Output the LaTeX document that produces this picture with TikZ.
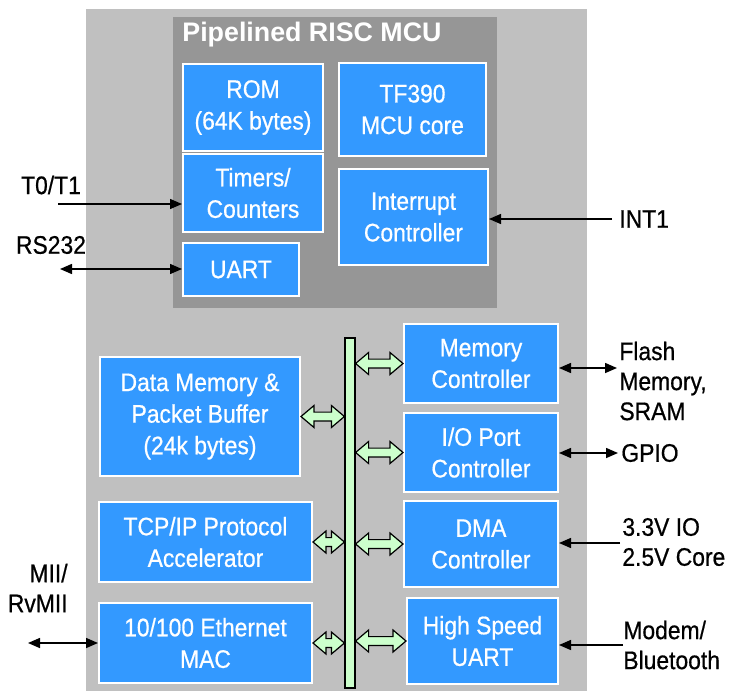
\documentclass[tikz,border=0pt]{standalone}
\usepackage{fontspec}
\setmainfont{Liberation Sans}
\newfontfamily\narrowfont{Liberation Sans}[FakeStretch=0.9, FakeBold=0.6]
\usepackage{tikz}
\usetikzlibrary{arrows.meta}
\usetikzlibrary{calc}
\definecolor{chipgray}{RGB}{192,192,192}
\definecolor{mcugray}{RGB}{150,150,150}
\definecolor{blkblue}{RGB}{51,153,255}
\definecolor{busgreen}{RGB}{204,255,204}
\tikzset{blk/.style={draw=white, line width=1pt, fill=blkblue, text=white, align=center,
  inner sep=0pt, font=\narrowfont\fontsize{12.7}{15.8}\selectfont}}
\tikzset{lbl/.style={inner sep=0pt, font=\narrowfont\fontsize{12.7}{15}\selectfont}}
\tikzset{sig/.style={line width=0.75pt}}
\tikzset{>={Triangle[length=6pt,width=5pt]}}
% fat two-headed arrow between bus and a block (same height)
\newcommand{\busarrow}[2]{%
  \filldraw[fill=busgreen, draw=black, line width=0.6pt]
    let \p1=(#1), \p2=(#2) in
    (\x1,\y1) -- ++(6.5pt,5.5pt) -- ++(0,-3.3pt) -- (\x2-6.5pt,\y1+2.2pt) -- ++(0,3.3pt)
    -- (\x2,\y1) -- ++(-6.5pt,-5.5pt) -- ++(0,3.3pt) -- (\x1+6.5pt,\y1-2.2pt) -- ++(0,-3.3pt) -- cycle;}

\begin{document}
\begin{tikzpicture}[x=0.5pt,y=-0.5pt]
    \useasboundingbox (0,0) rectangle (739,691);
    \fill[chipgray] (86,9) rectangle (587,691);
    \fill[mcugray] (173,17) rectangle (497,308);
    \node[anchor=west, text=white, inner sep=0pt, font=\bfseries\fontsize{13.4}{15}\selectfont]
      (title) at (182,35) {Pipelined RISC MCU};

    % MCU blocks
    \node[blk, minimum width=70pt, minimum height=43.5pt] (rom) at (253,107.5) {ROM\\(64K bytes)};
    \node[blk, minimum width=73.5pt, minimum height=46.5pt] (core) at (412.5,109.5) {TF390\\MCU core};
    \node[blk, minimum width=70pt, minimum height=39pt] (timers) at (253,193) {Timers/\\Counters};
    \node[blk, minimum width=74.5pt, minimum height=48pt] (intr) at (413.5,217) {Interrupt\\Controller};
    \node[blk, minimum width=58pt, minimum height=26.5pt] (uart) at (241,269.5) {UART};

    % bus and peripherals
    \node[draw=black, fill=busgreen, line width=0.6pt, inner sep=0pt,
      minimum width=5pt, minimum height=175pt] (bus) at (350,513) {};
    \node[blk, minimum width=77pt, minimum height=39.5pt] (mem) at (481,363.5) {Memory\\Controller};
    \node[blk, minimum width=77pt, minimum height=39.5pt] (io) at (481,452.5) {I/O Port\\Controller};
    \node[blk, minimum width=77pt, minimum height=43pt] (dma) at (481,544) {DMA\\Controller};
    \node[blk, minimum width=75.5pt, minimum height=43pt] (hsu) at (482.5,641) {High Speed\\UART};
    \node[blk, minimum width=100pt, minimum height=59.5pt] (dmem) at (200,416.5) {Data Memory \&\\Packet Buffer\\(24k bytes)};
    \node[blk, minimum width=106.5pt, minimum height=40pt] (tcp) at (205.5,542) {TCP/IP Protocol\\Accelerator};
    \node[blk, minimum width=106.5pt, minimum height=40pt] (eth) at (205.5,643) {10/100 Ethernet\\MAC};

    \busarrow{bus.east |- mem.west}{mem.west}
    \busarrow{bus.east |- io.west}{io.west}
    \busarrow{bus.east |- dma.west}{dma.west}
    \busarrow{bus.east |- hsu.west}{hsu.west}
    \busarrow{dmem.east}{bus.west |- dmem.east}
    \busarrow{tcp.east}{bus.west |- tcp.east}
    \busarrow{eth.east}{bus.west |- eth.east}

    % outside signals
    \node[lbl] (t01) at (51,185) {T0/T1};
    \node[lbl] (rs232) at (51,245) {RS232};
    \node[lbl, anchor=west] (int1) at (619,219) {INT1};
    \node[lbl, anchor=east, align=right] (mii) at (68,588) {MII/\\RvMII};
    \node[lbl, anchor=west, align=left] (flash) at (619,381) {Flash\\Memory,\\SRAM};
    \node[lbl, anchor=west] (gpio) at (621,453) {GPIO};
    \node[lbl, anchor=west, align=left] (volt) at (622,542) {3.3V IO\\2.5V Core};
    \node[lbl, anchor=west, align=left] (modem) at (623,645) {Modem/\\Bluetooth};

    \coordinate (pt0) at (58,204);
    \coordinate (prs) at (60,269);
    \coordinate (pint) at (612,219);
    \coordinate (pmii) at (28,643);
    \coordinate (pfl) at (617,368);
    \coordinate (pgp) at (618,453);
    \coordinate (pvo) at (620,543);
    \coordinate (pmo) at (623,645);

    \draw[sig, ->] (pt0) -- (timers.west |- pt0);
    \draw[sig, <->] (prs) -- (uart.west |- prs);
    \draw[sig, ->] (pint) -- (intr.east |- pint);
    \draw[sig, <->] (pmii) -- (eth.west |- pmii);
    \draw[sig, <->] (mem.east |- pfl) -- (pfl);
    \draw[sig, <->] (io.east |- pgp) -- (pgp);
    \draw[sig, ->] (pvo) -- (dma.east |- pvo);
    \draw[sig, ->] (pmo) -- (hsu.east |- pmo);
\end{tikzpicture}
\end{document}
